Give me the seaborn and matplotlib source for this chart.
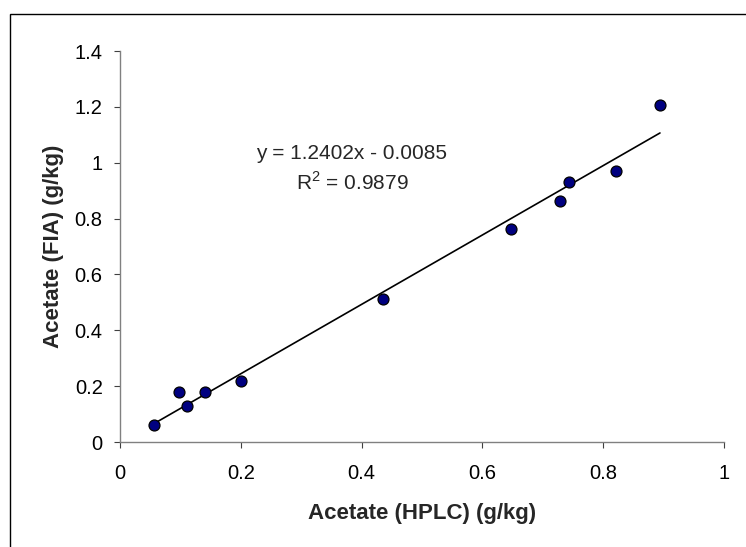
import matplotlib
matplotlib.use("Agg")
import matplotlib.pyplot as plt
import seaborn as sns
import pandas as pd
from matplotlib.patches import Rectangle

hplc = [0.057, 0.097, 0.111, 0.140, 0.200, 0.436, 0.648, 0.728, 0.743, 0.822, 0.894]
fia = [0.060, 0.178, 0.129, 0.179, 0.219, 0.511, 0.762, 0.864, 0.932, 0.970, 1.208]
x_ticks = [0, 0.2, 0.4, 0.6, 0.8, 1]
x_tick_labels = ["0", "0.2", "0.4", "0.6", "0.8", "1"]
y_ticks = [0, 0.2, 0.4, 0.6, 0.8, 1, 1.2, 1.4]
y_tick_labels = ["0", "0.2", "0.4", "0.6", "0.8", "1", "1.2", "1.4"]
eq_text = "y = 1.2402x - 0.0085"
r2_text = "R$^2$ = 0.9879"
x_label = "Acetate (HPLC) (g/kg)"
y_label = "Acetate (FIA) (g/kg)"

df = pd.DataFrame({"hplc": hplc, "fia": fia})

sns.set_style("white")
plt.rcParams["font.family"] = ["Liberation Sans", "DejaVu Sans"]
plt.rcParams["mathtext.fontset"] = "custom"
plt.rcParams["mathtext.rm"] = "Liberation Sans"

fig = plt.figure(figsize=(7.46, 5.47), dpi=100)
ax = fig.add_axes([120 / 746, 1 - 442 / 547, (724 - 120) / 746, (442 - 51) / 547])

sns.regplot(data=df, x="hplc", y="fia", scatter=False, ci=None, ax=ax,
            line_kws=dict(color="black", lw=1.2))
sns.scatterplot(data=df, x="hplc", y="fia", ax=ax, color="#000080",
                edgecolor="black", linewidth=0.9, s=62, zorder=3)

ax.set_xlim(0, 1)
ax.set_ylim(0, 1.4)
ax.set_xticks(x_ticks)
ax.set_xticklabels(x_tick_labels)
ax.set_yticks(y_ticks)
ax.set_yticklabels(y_tick_labels)

for s in ["top", "right"]:
    ax.spines[s].set_visible(False)
for s in ["left", "bottom"]:
    ax.spines[s].set_color("#808080")
    ax.spines[s].set_linewidth(1.0)

ax.tick_params(axis="both", direction="out", length=4.5, width=0.8,
               color="#404040", labelsize=14.5, labelcolor="black")
ax.tick_params(axis="x", pad=11)
ax.tick_params(axis="y", pad=8)
ax.tick_params(left=True, bottom=True)

ax.set_xlabel(x_label, fontsize=16, fontweight="bold", labelpad=15)
ax.set_ylabel(y_label, fontsize=16, fontweight="bold", labelpad=8)

ax.text(352 / 746, 1 - 153 / 547, eq_text, transform=fig.transFigure,
        ha="center", va="center", fontsize=15)
ax.text(352 / 746, 1 - 183 / 547, r2_text, transform=fig.transFigure,
        ha="center", va="center", fontsize=15)

fig.patches.append(Rectangle((9.5 / 746, -0.1), 1.2, (1 - 14 / 547) + 0.1,
                             transform=fig.transFigure, fill=False,
                             edgecolor="black", linewidth=1.0))

fig.savefig("out.png", dpi=100)
